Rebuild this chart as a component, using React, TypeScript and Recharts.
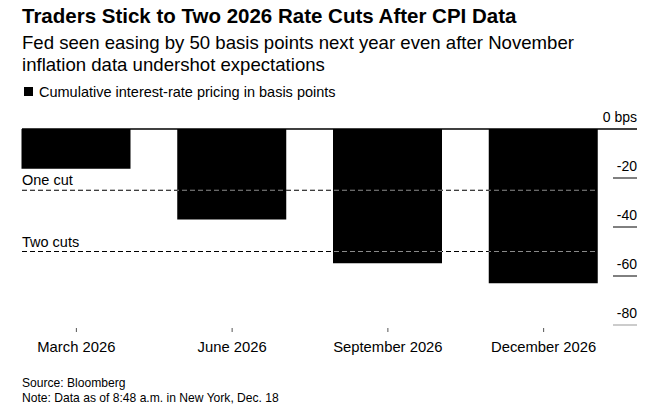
import React from "react";
import { BarChart, Bar, XAxis, YAxis, ReferenceLine, CartesianGrid } from "recharts";

const months = ["March 2026", "June 2026", "September 2026", "December 2026"];
const pricing = [-16.2, -36.9, -54.8, -63.0];
const yTicks = [0, -20, -40, -60, -80];
const cutLevels = [-25, -50];
const cutLabels = ["One cut", "Two cuts"];
const Y_MIN = -80;
const Y_MAX = 0;

const data = months.map((month, i) => ({ month, bps: pricing[i] }));

const FONT = '"Liberation Sans", Arial, sans-serif';
const PLOT_LEFT = 22;
const LABEL_RIGHT = 637;
const GRID_LEFT = 613;
const DASH = "5 3";

function YTick({ y, payload }: any) {
  const v = payload.value;
  const isZero = v === 0;
  return (
    <g>
      <line
        x1={isZero ? PLOT_LEFT : GRID_LEFT}
        x2={LABEL_RIGHT}
        y1={y}
        y2={y}
        stroke={v === -80 ? "#999" : "#000"}
        strokeWidth={isZero ? 1.5 : 1}
      />
      <text x={LABEL_RIGHT} y={y - 7} textAnchor="end" fontSize={14} fill="#000" fontFamily={FONT}>
        {isZero ? "0 bps" : v}
      </text>
    </g>
  );
}

function XTick({ x, y, payload }: any) {
  return (
    <g>
      <line x1={x} x2={x} y1={y - 5} y2={y - 1} stroke="#555" strokeWidth={1} />
      <text x={x} y={y + 19} textAnchor="middle" fontSize={14.8} fill="#000" fontFamily={FONT}>
        {payload.value}
      </text>
    </g>
  );
}

// grey dashes where the cut lines cross a bar (drawn in the label layer, above the bars)
function BarOverlay(props: any) {
  const box = props.viewBox && props.viewBox.width != null ? props.viewBox : props;
  const { x, y, width, height } = box;
  if (x == null || y == null || width == null || height == null) return null;
  const top = Math.min(y, y + height);
  const h = Math.abs(height);
  const raw = props.index != null ? pricing[props.index] : Array.isArray(props.value) ? props.value[1] : props.value;
  const v = Math.abs(Number(raw));
  if (!v) return null;
  return (
    <g>
      {cutLevels.map((c) => {
        if (Math.abs(c) >= v) return null;
        const ly = top + (h * Math.abs(c)) / v;
        return (
          <line
            key={c}
            x1={x}
            x2={x + width}
            y1={ly}
            y2={ly}
            stroke="#8a8a8a"
            strokeWidth={1.2}
            strokeDasharray={DASH}
            strokeDashoffset={(x - PLOT_LEFT) % 8}
          />
        );
      })}
    </g>
  );
}

function CutLabel({ viewBox, text }: any) {
  return (
    <text x={viewBox.x} y={viewBox.y - 5} fontSize={14.5} fill="#000" fontFamily={FONT}>
      {text}
    </text>
  );
}

// grid lines at the cut levels, drawn under the bars
function cutCoords({ offset }: any) {
  if (!offset) return [];
  return cutLevels.map((c) => offset.top + (offset.height * (Y_MAX - c)) / (Y_MAX - Y_MIN));
}

export default function App() {
  return (
    <div
      style={{
        position: "absolute",
        left: 0,
        top: 0,
        width: 669,
        height: 407,
        background: "#fff",
        fontFamily: FONT,
        color: "#000",
      }}
    >
      <div style={{ position: "absolute", left: 22, top: 4, fontSize: 20.5, fontWeight: 700, whiteSpace: "nowrap" }}>
        Traders Stick to Two 2026 Rate Cuts After CPI Data
      </div>
      <div style={{ position: "absolute", left: 22, top: 31.5, fontSize: 18.6, lineHeight: "22px", whiteSpace: "nowrap" }}>
        Fed seen easing by 50 basis points next year even after November
        <br />
        inflation data undershot expectations
      </div>
      <div style={{ position: "absolute", left: 24, top: 87, width: 9, height: 9, background: "#000" }} />
      <div style={{ position: "absolute", left: 39, top: 84, fontSize: 14.5, whiteSpace: "nowrap" }}>
        Cumulative interest-rate pricing in basis points
      </div>

      <div style={{ position: "absolute", left: 0, top: 0 }}>
        <BarChart width={669} height={407} data={data} margin={{ top: 129, right: 21, bottom: 52, left: 22 }}>
          <CartesianGrid
            vertical={false}
            horizontalCoordinatesGenerator={cutCoords}
            stroke="#000"
            strokeWidth={1.2}
            strokeDasharray={DASH}
          />
          <XAxis
            dataKey="month"
            axisLine={false}
            tickLine={false}
            tick={<XTick />}
            interval={0}
            height={30}
            padding={{ left: -23.5, right: -23.5 }}
          />
          <YAxis
            orientation="right"
            domain={[Y_MIN, Y_MAX]}
            ticks={yTicks}
            axisLine={false}
            tickLine={false}
            tick={<YTick />}
            width={50}
          />
          <Bar dataKey="bps" barSize={109} fill="#000" label={<BarOverlay />} isAnimationActive={false} />
          {cutLevels.map((c, i) => (
            <ReferenceLine key={c} y={c} stroke="none" label={<CutLabel text={cutLabels[i]} />} />
          ))}
        </BarChart>
      </div>

      <div style={{ position: "absolute", left: 22, top: 375.5, fontSize: 12.1, lineHeight: "15px", whiteSpace: "nowrap" }}>
        Source: Bloomberg
        <br />
        Note: Data as of 8:48 a.m. in New York, Dec. 18
      </div>
    </div>
  );
}
